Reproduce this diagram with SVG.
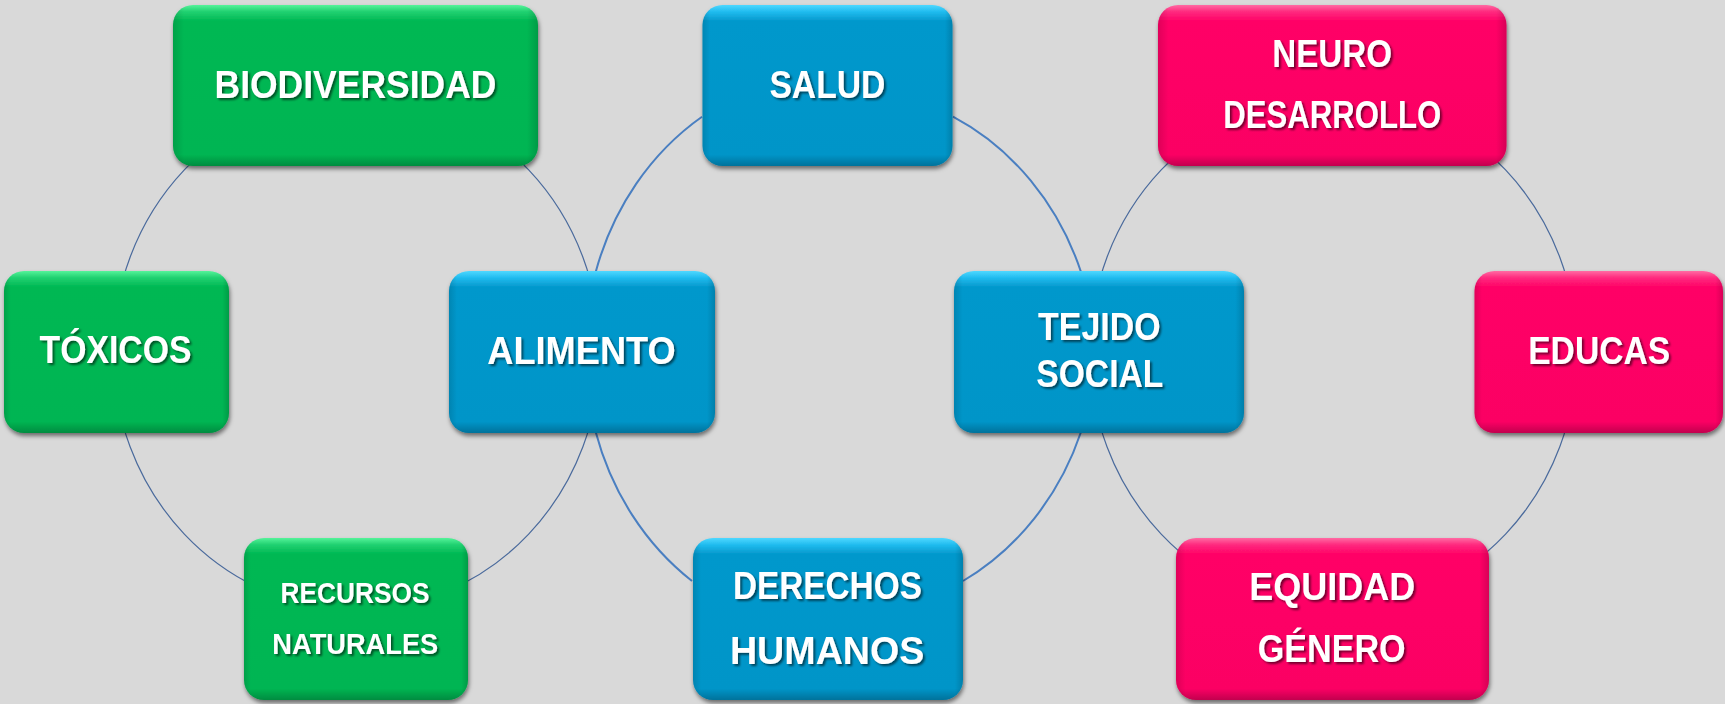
<svg xmlns="http://www.w3.org/2000/svg" width="1725" height="704" viewBox="0 0 1725 704">
<style>
.lbl{font-family:"Liberation Sans",Arial,sans-serif;font-weight:bold;fill:#ffffff;text-anchor:middle;filter:url(#tsh);}
.big{font-size:38px;}
.small{font-size:30px;}
.ring{fill:none;stroke:#4a6a9c;stroke-width:1.2;}
.mid{fill:none;stroke:#4a7fc1;stroke-width:2;}
.g{fill:url(#gG);filter:url(#bsh);}
.b{fill:url(#gB);filter:url(#bsh);}
.p{fill:url(#gP);filter:url(#bsh);}
.side{fill:url(#gSide);}
</style>
<defs>
<linearGradient id="gG" x1="0" y1="0" x2="0" y2="1">
<stop offset="0" stop-color="#55f39a"/><stop offset="0.04" stop-color="#22d272"/><stop offset="0.1" stop-color="#00b853"/><stop offset="0.93" stop-color="#00b552"/><stop offset="1" stop-color="#008c40"/>
</linearGradient>
<linearGradient id="gB" x1="0" y1="0" x2="0" y2="1">
<stop offset="0" stop-color="#4fd8ff"/><stop offset="0.04" stop-color="#22bdf0"/><stop offset="0.1" stop-color="#0398cc"/><stop offset="0.93" stop-color="#0395c8"/><stop offset="1" stop-color="#02729b"/>
</linearGradient>
<linearGradient id="gP" x1="0" y1="0" x2="0" y2="1">
<stop offset="0" stop-color="#ff6aa3"/><stop offset="0.04" stop-color="#ff2d80"/><stop offset="0.1" stop-color="#ff0066"/><stop offset="0.93" stop-color="#fb0064"/><stop offset="1" stop-color="#c2004e"/>
</linearGradient>
<linearGradient id="gSide" x1="0" y1="0" x2="1" y2="0">
<stop offset="0" stop-color="#000" stop-opacity="0.12"/><stop offset="0.03" stop-color="#000" stop-opacity="0"/><stop offset="0.97" stop-color="#000" stop-opacity="0"/><stop offset="1" stop-color="#000" stop-opacity="0.15"/>
</linearGradient>
<filter id="bsh" x="-5%" y="-5%" width="110%" height="115%">
<feDropShadow dx="1" dy="3" stdDeviation="2" flood-color="#000" flood-opacity="0.5"/>
</filter>
<filter id="tsh" x="-10%" y="-30%" width="120%" height="160%">
<feDropShadow dx="2" dy="2" stdDeviation="1.2" flood-color="#000" flood-opacity="0.55"/>
</filter>
</defs>
<rect x="0" y="0" width="1725" height="704" fill="#d9d9d9"/>
<g id="connectors">
<ellipse class="ring" cx="356.5" cy="352" rx="243.5" ry="257.5"/>
<ellipse class="ring" cx="1333.4" cy="352" rx="243.5" ry="257.5"/>
<path class="mid" d="M595.7 272 A254 279 0 0 1 702 116.7"/>
<path class="mid" d="M953 116.7 A254 279 0 0 1 1081 272"/>
<path class="mid" d="M1081 432 A254 279 0 0 1 963 581"/>
<path class="mid" d="M692 581 A254 279 0 0 1 595.7 432"/>
</g>
<g id="n-biodiversidad">
<rect class="g" x="173" y="5" width="365" height="161" rx="20"/>
<rect class="side" x="173" y="5" width="365" height="161" rx="20"/>
<text class="lbl big" x="355.5" y="98" textLength="282" lengthAdjust="spacingAndGlyphs">BIODIVERSIDAD</text>
</g>
<g id="n-toxicos">
<rect class="g" x="4" y="271" width="225" height="162" rx="20"/>
<rect class="side" x="4" y="271" width="225" height="162" rx="20"/>
<text class="lbl big" x="115.5" y="363" textLength="152" lengthAdjust="spacingAndGlyphs">TÓXICOS</text>
</g>
<g id="n-recursos">
<rect class="g" x="244" y="538" width="224" height="162" rx="20"/>
<rect class="side" x="244" y="538" width="224" height="162" rx="20"/>
<text class="lbl small" x="355" y="602.5" textLength="149" lengthAdjust="spacingAndGlyphs">RECURSOS</text>
<text class="lbl small" x="355.3" y="654" textLength="166" lengthAdjust="spacingAndGlyphs">NATURALES</text>
</g>
<g id="n-alimento">
<rect class="b" x="449" y="271" width="266" height="162" rx="20"/>
<rect class="side" x="449" y="271" width="266" height="162" rx="20"/>
<text class="lbl big" x="581.5" y="363.7" textLength="188.5" lengthAdjust="spacingAndGlyphs">ALIMENTO</text>
</g>
<g id="n-salud">
<rect class="b" x="702.5" y="5" width="250" height="161" rx="20"/>
<rect class="side" x="702.5" y="5" width="250" height="161" rx="20"/>
<text class="lbl big" x="827.4" y="98" textLength="116" lengthAdjust="spacingAndGlyphs">SALUD</text>
</g>
<g id="n-tejido">
<rect class="b" x="954" y="271" width="290" height="162" rx="20"/>
<rect class="side" x="954" y="271" width="290" height="162" rx="20"/>
<text class="lbl big" x="1099.3" y="340" textLength="122.5" lengthAdjust="spacingAndGlyphs">TEJIDO</text>
<text class="lbl big" x="1099.8" y="387" textLength="127" lengthAdjust="spacingAndGlyphs">SOCIAL</text>
</g>
<g id="n-derechos">
<rect class="b" x="693" y="538" width="270" height="162" rx="20"/>
<rect class="side" x="693" y="538" width="270" height="162" rx="20"/>
<text class="lbl big" x="827.4" y="598.6" textLength="189" lengthAdjust="spacingAndGlyphs">DERECHOS</text>
<text class="lbl big" x="827.2" y="663.7" textLength="194.5" lengthAdjust="spacingAndGlyphs">HUMANOS</text>
</g>
<g id="n-neuro">
<rect class="p" x="1158" y="5" width="348.5" height="161" rx="20"/>
<rect class="side" x="1158" y="5" width="348.5" height="161" rx="20"/>
<text class="lbl big" x="1332.2" y="66.5" textLength="120" lengthAdjust="spacingAndGlyphs">NEURO</text>
<text class="lbl big" x="1332.2" y="128" textLength="218" lengthAdjust="spacingAndGlyphs">DESARROLLO</text>
</g>
<g id="n-educas">
<rect class="p" x="1474.5" y="271" width="248.5" height="162" rx="20"/>
<rect class="side" x="1474.5" y="271" width="248.5" height="162" rx="20"/>
<text class="lbl big" x="1599.2" y="363.7" textLength="142" lengthAdjust="spacingAndGlyphs">EDUCAS</text>
</g>
<g id="n-equidad">
<rect class="p" x="1176" y="538" width="313" height="162" rx="20"/>
<rect class="side" x="1176" y="538" width="313" height="162" rx="20"/>
<text class="lbl big" x="1332.2" y="599.5" textLength="166" lengthAdjust="spacingAndGlyphs">EQUIDAD</text>
<text class="lbl big" x="1331.7" y="662.3" textLength="148" lengthAdjust="spacingAndGlyphs">GÉNERO</text>
</g>
</svg>
